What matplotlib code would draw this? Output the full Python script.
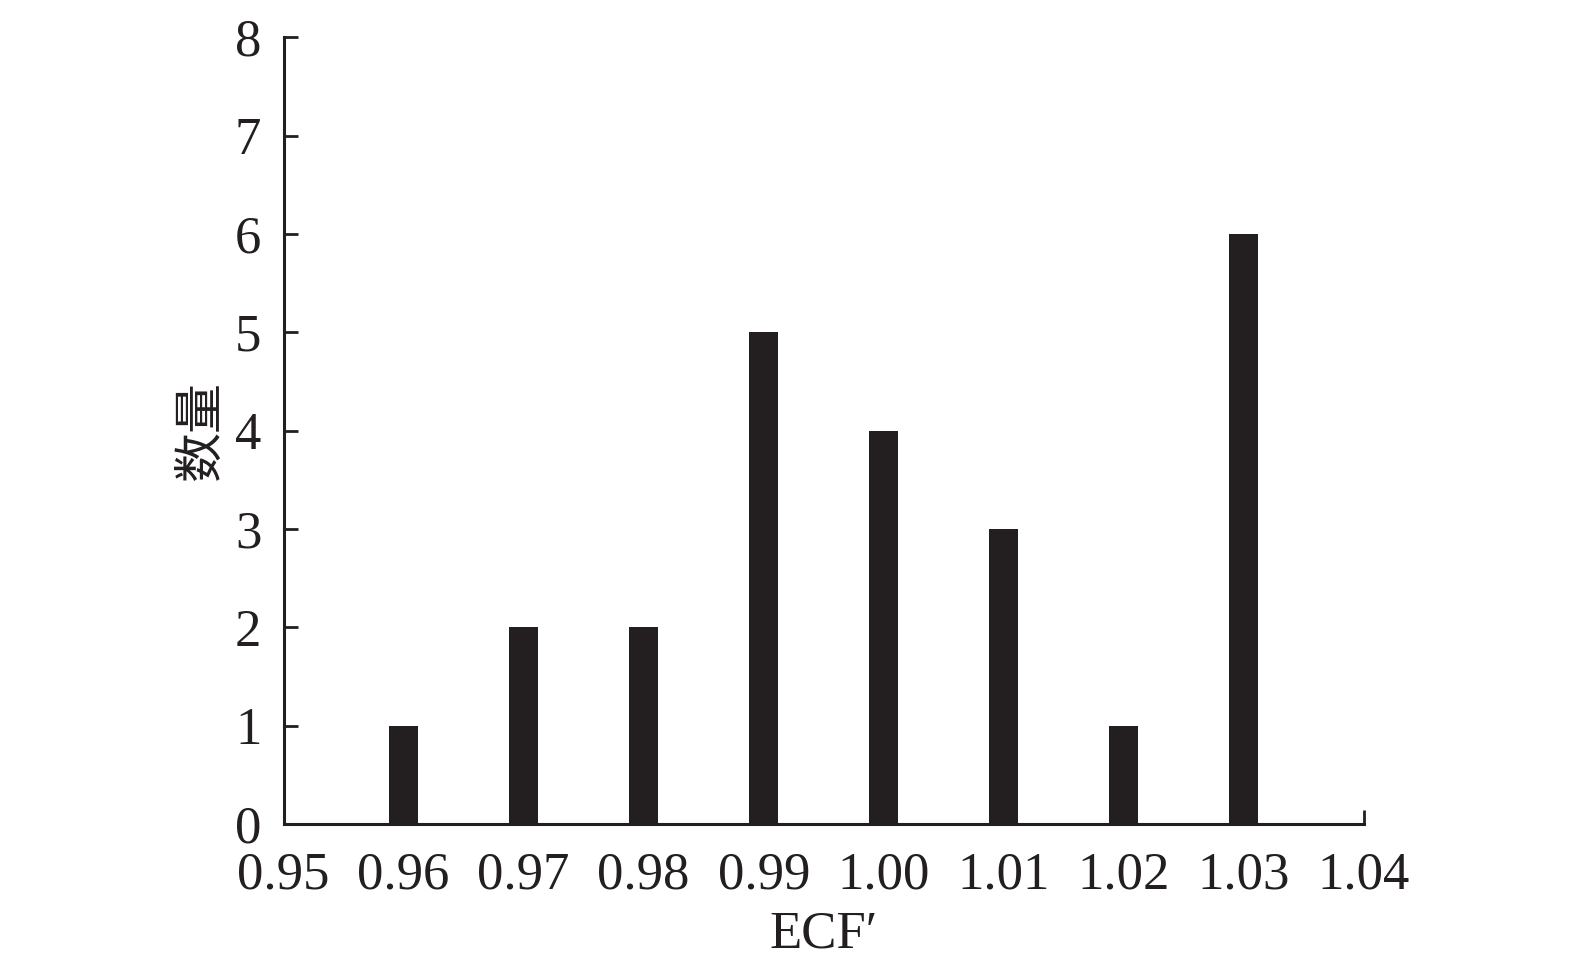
import matplotlib as mpl
import matplotlib.pyplot as plt

mpl.use("Agg")

# histogram of ECF' values
ecf = [0.96, 0.97, 0.98, 0.99, 1.00, 1.01, 1.02, 1.03]
counts = [1, 2, 2, 5, 4, 3, 1, 6]
xticks = [0.95, 0.96, 0.97, 0.98, 0.99, 1.00, 1.01, 1.02, 1.03, 1.04]
yticks = [0, 1, 2, 3, 4, 5, 6, 7, 8]

INK = "#231f20"
SERIF = ["Liberation Serif", "DejaVu Serif"]

plt.rcParams["font.family"] = SERIF

fig = plt.figure(figsize=(15.75, 9.67), dpi=100)
ax = fig.add_axes([0.180, 0.148, 0.686, 0.8135])

ax.bar(ecf, counts, width=0.0024, color=INK, align="center")

ax.set_xlim(0.95, 1.04)
ax.set_ylim(0, 8)
ax.set_xticks(xticks)
ax.set_xticklabels([f"{v:.2f}" for v in xticks])
ax.set_yticks(yticks)

for s in ("top", "right"):
    ax.spines[s].set_visible(False)
for s in ("left", "bottom"):
    ax.spines[s].set_linewidth(2.2)
    ax.spines[s].set_color(INK)

ax.tick_params(axis="y", direction="in", length=10, width=2, color=INK,
               labelsize=38, labelcolor=INK, pad=16)
ax.tick_params(axis="x", direction="in", length=10, width=2, color=INK,
               labelsize=38, labelcolor=INK, pad=20)
# only the end of the x axis carries a tick mark
for t in ax.xaxis.get_major_ticks()[:-1]:
    t.tick1line.set_visible(False)

ax.set_ylabel("数量", family=["Noto Sans CJK SC"], fontsize=36, color=INK, labelpad=6)
ax.set_xlabel("ECF′", family=SERIF, fontsize=38, color=INK, labelpad=8)

fig.savefig("out.png", dpi=100, facecolor="white")
